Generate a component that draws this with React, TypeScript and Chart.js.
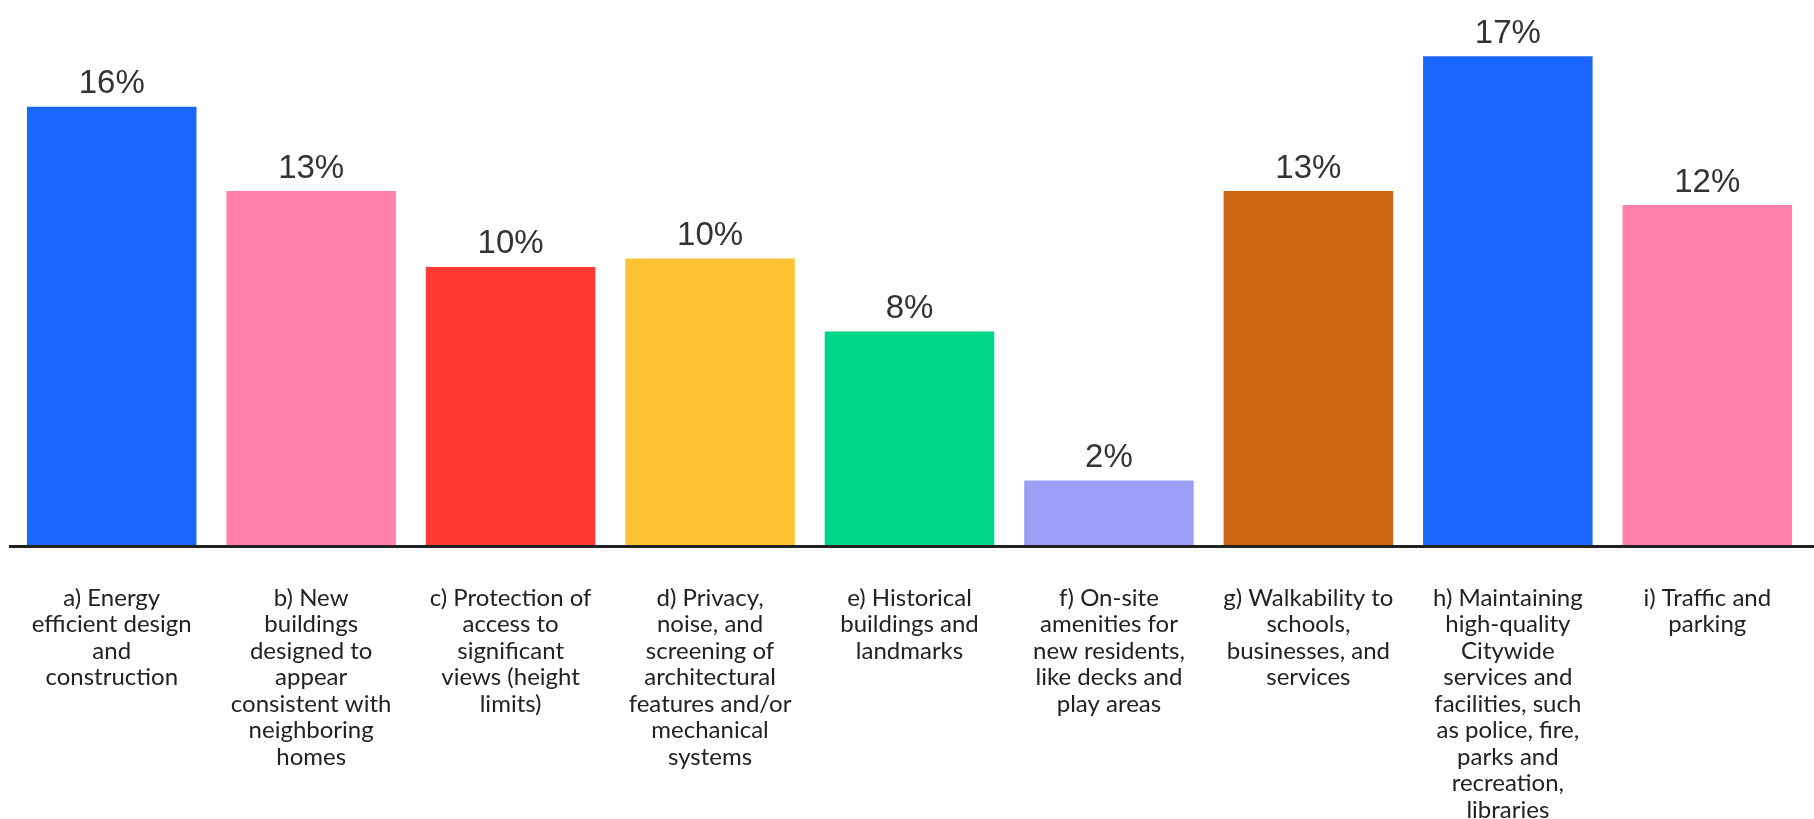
import React, { useEffect, useRef } from "react";
import { Chart, registerables } from "chart.js";

Chart.register(...registerables);

const categories: string[][] = [
  ["a) Energy", "efficient design", "and", "construction"],
  ["b) New", "buildings", "designed to", "appear", "consistent with", "neighboring", "homes"],
  ["c) Protection of", "access to", "significant", "views (height", "limits)"],
  ["d) Privacy,", "noise, and", "screening of", "architectural", "features and/or", "mechanical", "systems"],
  ["e) Historical", "buildings and", "landmarks"],
  ["f) On-site", "amenities for", "new residents,", "like decks and", "play areas"],
  ["g) Walkability to", "schools,", "businesses, and", "services"],
  ["h) Maintaining", "high-quality", "Citywide", "services and", "facilities, such", "as police, fire,", "parks and", "recreation,", "libraries"],
  ["i) Traffic and", "parking"],
];

const values: number[] = [15.6, 12.6, 9.9, 10.2, 7.6, 2.3, 12.6, 17.4, 12.1];

const valueLabels: string[] = ["16%", "13%", "10%", "10%", "8%", "2%", "13%", "17%", "12%"];

const barColors: string[] = [
  "#1a66ff",
  "#ff80a8",
  "#ff3a33",
  "#ffc233",
  "#00d68a",
  "#9b9ef5",
  "#cd6410",
  "#1a66ff",
  "#ff80a8",
];

const valueLabelPlugin = {
  id: "valueLabels",
  afterDatasetsDraw(chart: any) {
    const ctx = chart.ctx;
    const meta = chart.getDatasetMeta(0);
    ctx.save();
    ctx.font = "33px 'Liberation Sans', Arial, sans-serif";
    ctx.fillStyle = "#333333";
    ctx.textAlign = "center";
    ctx.textBaseline = "bottom";
    meta.data.forEach((bar: any, i: number) => {
      ctx.fillText(valueLabels[i], bar.x, bar.y - 6);
    });
    ctx.restore();
  },
};

const baselinePlugin = {
  id: "baseline",
  afterDatasetsDraw(chart: any) {
    const ctx = chart.ctx;
    const y = chart.scales.y.getPixelForValue(0);
    ctx.save();
    ctx.strokeStyle = "#222222";
    ctx.lineWidth = 3;
    ctx.beginPath();
    ctx.moveTo(9, y + 1.5);
    ctx.lineTo(chart.width, y + 1.5);
    ctx.stroke();
    ctx.restore();
  },
};

export default function App() {
  const canvasRef = useRef<HTMLCanvasElement | null>(null);

  useEffect(() => {
    if (!canvasRef.current) return;
    const chart = new Chart(canvasRef.current, {
      type: "bar",
      data: {
        labels: categories,
        datasets: [
          {
            data: values,
            backgroundColor: barColors,
            borderWidth: 0,
            categoryPercentage: 0.85,
            barPercentage: 1,
          },
        ],
      },
      plugins: [valueLabelPlugin, baselinePlugin],
      options: {
        animation: false,
        responsive: true,
        maintainAspectRatio: false,
        layout: { padding: { left: 12, right: 7, top: 0, bottom: 0 } },
        plugins: {
          legend: { display: false },
          tooltip: { enabled: false },
        },
        scales: {
          y: {
            display: false,
            min: 0,
            max: 19.4,
          },
          x: {
            grid: { display: false, drawTicks: true, tickLength: 40 },
            border: { display: false },
            afterFit: (scale: any) => {
              scale.height = 274;
            },
            ticks: {
              autoSkip: false,
              maxRotation: 0,
              minRotation: 0,
              padding: 0,
              color: "#222222",
              font: { family: "Lato, 'Noto Sans', sans-serif", size: 24, lineHeight: "26.5px" },
            },
          },
        },
      },
    });
    return () => chart.destroy();
  }, []);

  return (
    <div style={{ position: "fixed", left: 0, top: 0, width: 1814, height: 819, background: "#ffffff" }}>
      <canvas ref={canvasRef} />
    </div>
  );
}
